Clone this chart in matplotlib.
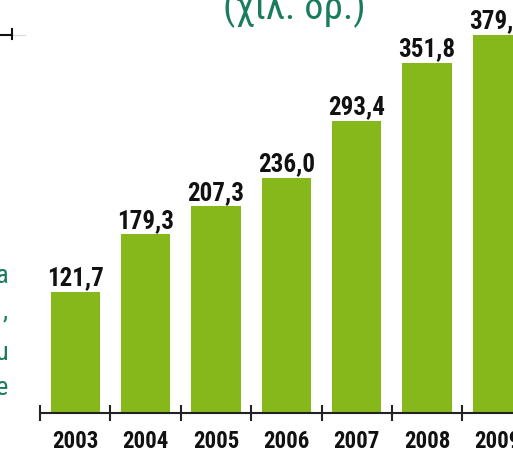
import matplotlib
matplotlib.use('Agg')
import matplotlib.pyplot as plt
from matplotlib.lines import Line2D

# Data
years = ['2003', '2004', '2005', '2006', '2007', '2008', '2009']
values = [121.7, 179.3, 207.3, 236.0, 293.4, 351.8, 379.9]
labels = ['121,7', '179,3', '207,3', '236,0', '293,4', '351,8', '379,9']

bar_color = '#86b81c'
green_text = '#1a7c5b'
cond = ['Roboto Condensed', 'DejaVu Sans']

fig = plt.figure(figsize=(5.13, 4.5), dpi=100)
ax = fig.add_axes([40 / 513, 37.5 / 450, 473 / 513, 412.5 / 450])

x = list(range(len(years)))
ax.bar(x, values, width=0.7, color=bar_color, zorder=2)

for xi, v, lab in zip(x, values, labels):
    ax.annotate(lab, (xi, v), xytext=(0, 4.5), textcoords='offset points',
                ha='center', va='baseline', fontsize=18, fontweight='bold',
                family=cond, color='#111111')

# axis line and boundary ticks
for s in ['top', 'right', 'left']:
    ax.spines[s].set_visible(False)
ax.spines['bottom'].set_linewidth(1.5)
ax.spines['bottom'].set_color('#222222')
ax.set_yticks([])

ax.set_xticks(x)
ax.set_xticklabels(years, fontsize=16.5, fontweight='bold', family=cond, color='#111111')
ax.tick_params(axis='x', which='major', length=0, pad=12.5)
ax.set_xticks([i - 0.5 for i in range(len(years) + 1)], minor=True)
ax.tick_params(axis='x', which='minor', length=12, width=1.5,
               direction='inout', color='#222222')

ax.set_xlim(-0.5, 6.22)
ax.set_ylim(0, 415)

# title (cut off at the top)
fig.text(294 / 513, 1.0 - 19 / 450, '(χιλ. δρ.)', ha='center', va='baseline',
         fontsize=28, family=cond, color=green_text)

# fragments of neighbouring text on the left edge
for ch, yb in zip(['a', ',', 'u', 'e'], [283, 318, 360, 395]):
    fig.text(8 / 513, 1.0 - yb / 450, ch, ha='right', va='baseline',
             fontsize=19, family=cond, color=green_text)

# axis stub from the neighbouring chart at top left
fig.add_artist(Line2D([0, 12 / 513], [1 - 35 / 450] * 2, color='#111111', lw=1.5))
fig.add_artist(Line2D([12 / 513, 25 / 513], [1 - 35 / 450] * 2, color='#dddddd', lw=1))
fig.add_artist(Line2D([12 / 513] * 2, [1 - 29 / 450, 1 - 39 / 450], color='#111111', lw=1.5))

fig.savefig('out.png', dpi=100)
